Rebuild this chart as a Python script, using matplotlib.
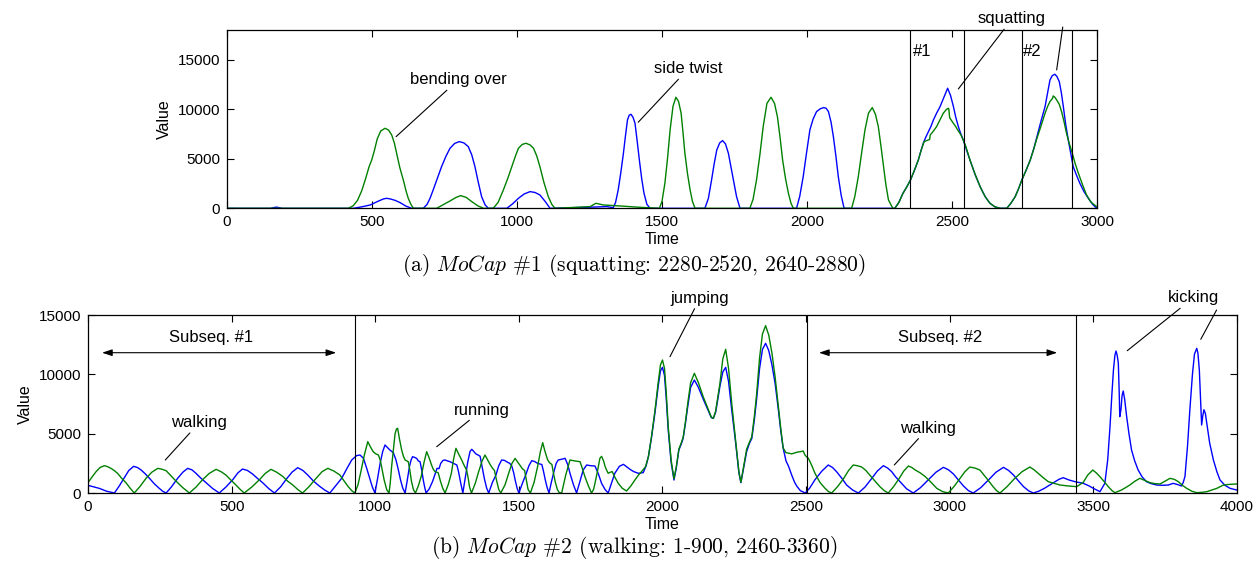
import matplotlib
matplotlib.use("Agg")
import matplotlib.pyplot as plt

plt.rcParams["font.family"] = ["Liberation Sans", "DejaVu Sans"]
plt.rcParams["mathtext.fontset"] = "cm"

BLUE = "#0000ff"
GREEN = "#008000"

# ---------- (a) MoCap #1 : values ----------
a_blue_t = [0, 150, 170, 190, 436, 465, 494, 520, 540, 551, 565, 580, 597, 617, 637,
            677, 690, 700, 711, 725, 740, 755, 769, 785, 801, 817, 832, 844, 855, 866, 878, 890, 901,
            965, 985, 1005, 1025, 1045, 1062, 1079, 1097, 1114, 1240, 1310, 1332,
            1340, 1349, 1358, 1367, 1374, 1381, 1387, 1393, 1400, 1407, 1414, 1422, 1430, 1438, 1448, 1459,
            1648, 1660, 1671, 1680, 1689, 1699, 1709, 1719, 1729, 1737, 1746, 1757, 1769,
            1964, 1975, 1987, 1998, 2010, 2021, 2033, 2046, 2058, 2066, 2074, 2083, 2091, 2100, 2108,
            2118, 2128, 2303, 2317, 2331, 2344, 2357, 2370, 2384, 2393, 2401, 2410, 2419, 2428, 2436,
            2447, 2459, 2472, 2485, 2495, 2505, 2513, 2522, 2530, 2539, 2550, 2562, 2580, 2597, 2614,
            2631, 2648, 2666, 2689, 2703, 2718, 2730, 2741, 2755, 2770, 2782, 2793, 2807, 2821, 2830,
            2838, 2846, 2855, 2862, 2870, 2877, 2884, 2892, 2901, 2910, 2918, 2930, 2941, 2955, 2970,
            2985, 2999]
a_blue_v = [0, 0, 120, 0, 0, 150, 337, 700, 950, 1010, 930, 800, 572, 220, 0,
            0, 400, 1000, 1852, 3000, 4209, 5250, 6060, 6550, 6733, 6600, 6228, 5400, 4209, 2700, 1178, 350, 0,
            0, 450, 1010, 1450, 1683, 1600, 1347, 700, 0, 100, 170, 60,
            600, 1852, 3600, 5555, 7300, 8922, 9400, 9494, 9200, 8585, 6900, 4878, 3000, 1515, 400, 0,
            0, 1000, 2862, 4500, 5892, 6600, 6834, 6500, 5555, 4300, 2862, 1200, 0,
            0, 1200, 3198, 5500, 7913, 9000, 9764, 10050, 10168, 10100, 9764, 8700, 7240, 5200, 3198,
            1300, 0, 0, 600, 1515, 2150, 2862, 3800, 4878, 5800, 6565, 7200, 7745, 8300, 8922,
            9600, 10268, 11200, 12119, 11400, 10268, 9200, 8248, 7550, 6901, 5900, 4878, 3400, 2188, 1200,
            505, 150, 0, 0, 500, 1178, 2000, 2862, 3800, 4878, 6000, 7240, 8800, 10268, 11700,
            12960, 13400, 13532, 13300, 12791, 11700, 10268, 8500, 6901, 5500, 4209, 3300, 2525, 1700, 1010,
            400, 0]

a_green_t = [0, 418, 435, 450, 465, 478, 490, 499, 508, 518, 530, 545, 557, 568, 577, 585, 596, 608,
             617, 625, 634, 643, 723, 745, 769, 790, 806, 825, 844, 865, 884,
             918, 935, 953, 968, 982, 995, 1005, 1018, 1031, 1045, 1057, 1068, 1079, 1093, 1108, 1120,
             1131, 1252, 1272, 1298, 1355, 1424, 1491, 1500, 1510, 1519, 1528, 1538, 1548, 1557, 1566,
             1572, 1579, 1588, 1597, 1605, 1614, 1803, 1814, 1826, 1838, 1849, 1862, 1876, 1888, 1898,
             1907, 1916, 1926, 1936, 1945, 1953, 2154, 2165, 2177, 2188, 2200, 2212, 2225, 2236, 2246,
             2255, 2264, 2272, 2281, 2296, 2303, 2317, 2331, 2344, 2357, 2370, 2384, 2393, 2404, 2414,
             2423, 2425, 2436, 2447, 2458, 2470, 2480, 2487, 2489, 2492, 2502, 2513, 2522, 2531, 2540,
             2548, 2562, 2580, 2597, 2614, 2631, 2648, 2666, 2689, 2703, 2718, 2730, 2741, 2755, 2770,
             2782, 2793, 2807, 2821, 2830, 2838, 2847, 2849, 2855, 2861, 2870, 2878, 2886, 2895, 2905,
             2915, 2925, 2936, 2950, 2964, 2980, 2999]
a_green_v = [0, 0, 250, 800, 1800, 3000, 4200, 4878, 5800, 7000, 7800, 8080, 7900, 7403, 6600, 5555, 4100, 2858,
             1800, 1010, 400, 0, 0, 350, 740, 1100, 1279, 1100, 673, 250, 0,
             0, 600, 1852, 3000, 4209, 5300, 6060, 6450, 6565, 6400, 6060, 5300, 4209, 2600, 1178, 400,
             0, 168, 505, 337, 236, 100, 0, 700, 2525, 5000, 7913, 10300, 11212, 10800, 9596,
             7800, 5555, 3500, 1852, 700, 0, 0, 900, 2862, 5500, 8248, 10600, 11212, 10600, 9259,
             7200, 4878, 3000, 1515, 500, 0, 0, 1200, 3198, 5500, 7913, 9600, 10168, 9500, 8248,
             6300, 4209, 2400, 842, 0, 0, 600, 1515, 2150, 2862, 3800, 4878, 5800, 6733, 6850,
             6950, 7400, 7800, 8248, 8900, 9596, 9950, 10100, 10050, 9150, 8700, 8248, 7800, 7409, 6800,
             6228, 4878, 3400, 2188, 1200, 505, 150, 0, 0, 500, 1178, 2000, 2862, 3800, 4878,
             6000, 7071, 8300, 9596, 10300, 10774, 11111, 11350, 11200, 10942, 10500, 9764, 8800, 7576, 6500,
             5555, 4500, 3535, 2400, 1347, 600, 168]

a_vlines = [2355, 2540, 2740, 2915]

# ---------- (b) MoCap #2 ----------
b_blue_t = [0, 20, 39, 65, 92, 109, 125, 142, 159, 172, 185, 200, 214, 230, 248, 260, 272,
            290, 312, 330, 347, 362, 376, 393, 411, 434, 457, 480, 504, 522, 538, 555, 573, 590, 608,
            628, 649, 670, 689, 710, 730, 748, 765, 785, 805, 824, 842, 862, 883, 900, 918, 935, 947,
            959, 970, 982, 990, 999,
            1008, 1017, 1026, 1034, 1042, 1051, 1063, 1072, 1080, 1088, 1096, 1104,
            1111, 1119, 1125, 1130, 1137, 1144, 1150, 1156, 1162, 1167, 1172, 1177,
            1188, 1200, 1215, 1222, 1228, 1236, 1243, 1252, 1260, 1272, 1284, 1290, 1297, 1305,
            1313, 1322, 1330, 1336, 1343, 1350, 1358, 1365, 1372, 1380, 1388, 1395,
            1408, 1420, 1430, 1440, 1450, 1460, 1468, 1475, 1482, 1488, 1494, 1500,
            1512, 1525, 1535, 1545, 1555, 1565, 1572, 1580, 1586, 1592, 1598, 1605,
            1613, 1622, 1630, 1637, 1650, 1661, 1670, 1678, 1690, 1701,
            1713, 1724, 1736, 1750, 1765, 1777, 1788, 1800, 1811,
            1822, 1834, 1850, 1864, 1876, 1887, 1900, 1916, 1933, 1943, 1951,
            1962, 1974, 1985, 1993, 2000, 2007, 2013, 2020, 2030, 2040, 2048, 2057, 2065, 2072, 2080,
            2088, 2098, 2111, 2125, 2142, 2160, 2170, 2177, 2185, 2192, 2200, 2210, 2220, 2230, 2241,
            2250, 2258, 2266, 2273, 2283, 2293, 2303, 2311, 2320, 2328, 2338, 2348, 2359, 2370, 2381,
            2392, 2402, 2412, 2420, 2430, 2439, 2450, 2460, 2468, 2480, 2497,
            2512, 2531, 2555, 2577, 2592, 2606, 2624, 2641, 2662, 2682,
            2705, 2726, 2748, 2769, 2784, 2798, 2812, 2827, 2850, 2873,
            2898, 2925, 2952, 2978, 2996, 3013, 3030, 3048, 3065, 3082,
            3108, 3135, 3161, 3187, 3205, 3222, 3240, 3257, 3275, 3291,
            3310, 3330, 3345, 3360, 3380, 3395, 3415, 3436, 3465, 3485, 3500, 3523,
            3540, 3550, 3558, 3565, 3570, 3575, 3579, 3583, 3587, 3590, 3592, 3596, 3600, 3604, 3609,
            3616, 3624, 3633, 3644, 3656, 3670, 3685, 3700, 3720, 3740, 3761, 3778, 3795, 3807, 3813,
            3819, 3828, 3836, 3845, 3852, 3860, 3864, 3869, 3873, 3877, 3881, 3885, 3890, 3895, 3905,
            3918, 3930, 3941, 3958, 3976, 3999]
b_blue_v = [646, 520, 393, 150, 0, 600, 1236, 1900, 2247, 2150, 1938, 1600, 1236, 800, 393, 150, 0,
            500, 1236, 1750, 2078, 1950, 1657, 1250, 870, 380, 0, 500, 1124, 1700, 2022, 1900, 1600, 1230, 870,
            400, 0, 500, 1124, 1750, 2135, 1900, 1517, 1000, 590, 250, 0, 600, 1236, 2000, 2780, 3150, 3202,
            2920, 2100, 1124, 500, 0,
            1200, 2500, 3500, 4045, 3850, 3623, 3398, 2800, 2000, 1100, 400, 0,
            1000, 2219, 2800, 3062, 3000, 2921, 2700, 2640, 1900, 1124, 500, 0,
            350, 1000, 2078, 2050, 2500, 2750, 2781, 2700, 2640, 2500, 2360, 1800, 900, 0,
            1200, 2600, 3500, 3680, 3500, 3300, 3200, 3100, 2200, 1200, 400, 0,
            900, 1500, 2300, 2781, 2750, 2600, 2500, 2300, 1700, 1000, 400, 0,
            800, 1600, 2300, 2725, 2650, 2500, 2450, 2400, 1800, 1100, 500, 0,
            900, 1800, 2500, 2781, 2850, 2921, 2400, 1660, 700, 0,
            1000, 1938, 2360, 2300, 2275, 1600, 815, 300, 0,
            800, 1660, 2250, 2416, 2200, 1994, 1800, 1660, 1716, 2300, 3062,
            4700, 6800, 9000, 10300, 10590, 9900, 8000, 5300, 2600, 1096, 2100, 3624, 4100, 4608, 5900,
            7300, 8900, 9522, 8900, 7900, 6900, 6350, 6290, 6800, 7800, 9000, 10200, 10590, 9400, 7000,
            5200, 3500, 1700, 870, 2200, 3500, 4200, 4600, 6200, 7980, 10500, 12100, 12613, 12000, 10800,
            9240, 7300, 5200, 3800, 2700, 2247, 1500, 900, 562, 200, 0,
            400, 1124, 1850, 2360, 2150, 1797, 1250, 674, 250, 0,
            500, 1150, 1850, 2303, 2100, 1797, 1350, 955, 350, 0,
            450, 1100, 1750, 2163, 1950, 1600, 1100, 590, 200, 0,
            450, 1100, 1750, 2163, 1900, 1517, 1000, 534, 180, 0,
            150, 400, 620, 850, 1150, 1290, 1100, 955, 815, 600, 393, 112,
            815, 2800, 5590, 8500, 10366, 11600, 11966, 11600, 10928, 8500, 6433, 7000, 8200, 8596, 7900,
            6433, 5000, 3624, 2700, 1938, 1350, 955, 800, 674, 650, 674, 815, 700, 590, 900,
            1400, 4000, 7020, 10000, 11700, 12192, 11800, 10366, 8000, 5730, 6500, 7020, 6700, 5870, 4200,
            2781, 1800, 1096, 650, 393, 253]

b_green_t = [0, 14, 28, 42, 57, 68, 80, 92, 103, 117, 132, 147, 161,
             181, 202, 222, 243, 258, 272, 289, 306, 330, 353, 376, 399, 422, 446, 463, 480, 497, 515,
             530, 544, 570, 597, 617, 637, 657, 678, 695, 713, 730, 747, 770, 794, 815, 835, 856, 877,
             892, 906, 918, 929,
             940, 950, 962, 974, 983, 993, 1002, 1011, 1017, 1022, 1031, 1040, 1048,
             1052, 1057, 1063, 1069, 1074, 1078, 1084, 1092, 1098, 1104, 1110, 1115, 1120, 1126, 1133, 1140,
             1150, 1160, 1170, 1179, 1187, 1196, 1202, 1208, 1214, 1219, 1227, 1235, 1243,
             1254, 1265, 1273, 1281, 1290, 1301, 1310, 1318, 1324, 1328, 1335,
             1348, 1360, 1372, 1382, 1391, 1400, 1408, 1415, 1422, 1430, 1437,
             1452, 1465, 1476, 1487, 1496, 1505, 1512, 1520, 1526, 1532, 1540,
             1553, 1565, 1575, 1583, 1591, 1600, 1607, 1615, 1621, 1627, 1634, 1640, 1649,
             1663, 1678, 1695, 1713, 1722, 1730, 1742, 1753,
             1760, 1765, 1775, 1782, 1788, 1795, 1800, 1806, 1811, 1818, 1825, 1835, 1846, 1860, 1875,
             1890, 1904, 1916, 1927, 1941, 1951,
             1962, 1974, 1985, 1993, 2000, 2007, 2013, 2020, 2030, 2040, 2048, 2057, 2065, 2072, 2080,
             2088, 2098, 2111, 2125, 2142, 2160, 2170, 2177, 2185, 2192, 2200, 2210, 2220, 2230, 2241,
             2250, 2258, 2266, 2273, 2283, 2293, 2303, 2311, 2320, 2328, 2338, 2348, 2359, 2370, 2381,
             2392, 2402, 2412, 2420, 2430, 2450, 2470, 2480, 2490, 2496, 2502,
             2508, 2520, 2531, 2548, 2566, 2578, 2589,
             2610, 2630, 2648, 2664, 2678, 2693, 2708, 2722, 2740, 2757, 2772, 2786,
             2805, 2822, 2840, 2856, 2868, 2880, 2897, 2914, 2935, 2955, 2975, 2995,
             3015, 3035, 3053, 3070, 3088, 3105, 3128, 3151, 3163, 3175,
             3200, 3225, 3252, 3279, 3294, 3308, 3325, 3343, 3365, 3384, 3410, 3442, 3465, 3480, 3498,
             3510, 3523, 3538, 3552, 3565, 3575, 3598, 3612, 3627, 3645, 3662, 3680, 3697, 3715, 3732,
             3750, 3767, 3782, 3796, 3810, 3825, 3843, 3860, 3878, 3895, 3912, 3930, 3953, 3975, 3999]
b_green_v = [870, 1350, 1796, 2150, 2303, 2220, 2078, 1880, 1657, 1250, 870, 400, 0,
             550, 1236, 1750, 2078, 2000, 1880, 1450, 1011, 450, 0, 500, 1124, 1650, 1994, 1800, 1517, 1100, 674,
             300, 0, 500, 1124, 1650, 1994, 1750, 1400, 1000, 674, 300, 0, 550, 1236, 1800, 2078, 1850, 1517,
             1000, 534, 200, 0,
             700, 1800, 3200, 4326, 3900, 3475, 3300, 3202, 2800, 2219, 1100, 281, 0,
             800, 2219, 3600, 5000, 5400, 5450, 4600, 3623, 3100, 2781, 2700, 2640, 2000, 1000, 281, 0,
             600, 1400, 2600, 3483, 3000, 2360, 2000, 1800, 1750, 1713, 1000, 400, 0,
             700, 1657, 2900, 3764, 3300, 2781, 2300, 1938, 1200, 534, 0,
             800, 1800, 2700, 3202, 2800, 2400, 2100, 1900, 1100, 300, 0,
             700, 1700, 2500, 2921, 2600, 2300, 2050, 1900, 1100, 300, 0,
             900, 2200, 3500, 4242, 3500, 2800, 2550, 2400, 1600, 900, 300, 50, 0,
             1500, 2781, 2700, 2640, 2000, 1377, 600, 0,
             300, 815, 2000, 2921, 3090, 2700, 2247, 1900, 1660, 1750, 1800, 1300, 815, 400, 168,
             600, 1096, 1500, 1800, 2220, 3062,
             4800, 6994, 9300, 10800, 11208, 10500, 8500, 5590, 2800, 1200, 2200, 3700, 4200, 4700, 6000,
             7560, 9300, 10084, 9300, 8100, 7000, 6400, 6290, 6900, 8000, 9240, 11300, 12107, 10500, 7560,
             5500, 3624, 1800, 900, 2300, 3700, 4300, 4748, 6500, 8400, 11400, 13400, 14101, 13300, 11800,
             9800, 7600, 5400, 3800, 3400, 3300, 3450, 3480, 3540, 3200, 3040,
             2920, 2300, 1657, 900, 393, 120, 0,
             550, 1200, 1900, 2360, 2300, 2200, 1900, 1500, 1000, 534, 200, 0,
             550, 1150, 1850, 2275, 2150, 1938, 1700, 1400, 900, 393, 120, 0,
             550, 1200, 1800, 2190, 2100, 1938, 1250, 534, 200, 0,
             550, 1200, 1800, 2190, 1950, 1657, 1300, 955, 800, 674, 600, 534, 900, 1500, 1938,
             1700, 1377, 950, 534, 200, 28, 253, 450, 674, 1000, 1236, 1050, 871, 790, 760,
             1000, 1236, 1150, 955, 650, 393, 150, 28, 60, 112, 250, 393, 674, 730, 760]

b_vlines = [929, 2504, 3440]


def style_axes(ax, xmax, ymax, xticks, yticks):
    ax.set_xlim(0, xmax)
    ax.set_ylim(0, ymax)
    ax.set_xticks(xticks)
    ax.set_yticks(yticks)
    ax.tick_params(direction="in", top=True, right=True, length=5, width=0.8,
                   labelsize=11, pad=5)
    for s in ax.spines.values():
        s.set_linewidth(0.9)
    ax.set_xlabel("Time", fontsize=11.5, labelpad=2)
    ax.set_ylabel("Value", fontsize=11.5, labelpad=4)


fig = plt.figure(figsize=(12.59, 5.61), dpi=100)

# top panel
ax1 = fig.add_axes([0.1803, 0.6287, 0.6910, 0.3178])
ax1.plot(a_blue_t, a_blue_v, color=BLUE, lw=1.0)
ax1.plot(a_green_t, a_green_v, color=GREEN, lw=1.0)
for x in a_vlines:
    ax1.axvline(x, color="black", lw=0.8)
style_axes(ax1, 3000, 18000, range(0, 3001, 500), [0, 5000, 10000, 15000])
ax1.text(2366, 15786, "#1", fontsize=12, va="center")
ax1.text(2745, 15786, "#2", fontsize=12, va="center")
line = dict(arrowstyle="-", color="black", lw=0.8, shrinkA=0, shrinkB=0)
ax1.annotate("bending over", xy=(583, 7232), xytext=(797, 12958), fontsize=12,
             ha="center", va="center", arrowprops=line)
ax1.annotate("side twist", xy=(1418, 8686), xytext=(1590, 14069), fontsize=12,
             ha="center", va="center", arrowprops=line)
ax1.annotate("squatting", xy=(2522, 12049), xytext=(2707, 19119), fontsize=12,
             ha="center", va="center", arrowprops=line, annotation_clip=False)
ax1.annotate("", xy=(2861, 13969), xytext=(2882, 18300), arrowprops=line,
             annotation_clip=False)

# bottom panel
ax2 = fig.add_axes([0.0699, 0.1212, 0.9126, 0.3173])
ax2.plot(b_blue_t, b_blue_v, color=BLUE, lw=1.0)
ax2.plot(b_green_t, b_green_v, color=GREEN, lw=1.0)
for x in b_vlines:
    ax2.axvline(x, color="black", lw=0.8)
style_axes(ax2, 4000, 15000, range(0, 4001, 500), [0, 5000, 10000, 15000])
arrow2 = dict(arrowstyle="<|-|>,head_length=0.6,head_width=0.2", color="black", lw=0.8,
              shrinkA=0, shrinkB=0)
ax2.annotate("", xy=(49, 11823), xytext=(864, 11823), arrowprops=arrow2)
ax2.annotate("", xy=(2545, 11823), xytext=(3374, 11823), arrowprops=arrow2)
ax2.text(430, 13146, "Subseq. #1", fontsize=12, ha="center", va="center")
ax2.text(2965, 13146, "Subseq. #2", fontsize=12, ha="center", va="center")
ax2.annotate("walking", xy=(269, 2781), xytext=(387, 5924), fontsize=12,
             ha="center", va="center", arrowprops=line)
ax2.annotate("running", xy=(1214, 3902), xytext=(1372, 6994), fontsize=12,
             ha="center", va="center", arrowprops=line)
ax2.annotate("jumping", xy=(2026, 11486), xytext=(2130, 16400), fontsize=12,
             ha="center", va="center", arrowprops=line, annotation_clip=False)
ax2.annotate("walking", xy=(2807, 2360), xytext=(2924, 5450), fontsize=12,
             ha="center", va="center", arrowprops=line)
ax2.annotate("kicking", xy=(3618, 11990), xytext=(3847, 16433), fontsize=12,
             ha="center", va="center", arrowprops=line, annotation_clip=False)
ax2.annotate("", xy=(3874, 12953), xytext=(3929, 15421), arrowprops=line,
             annotation_clip=False)

fig.text(0.5036, 0.5276, r"(a) $\mathit{MoCap}$ #1 (squatting: 2280-2520, 2640-2880)",
         family="cmr10", fontsize=15.5, ha="center", va="center")
fig.text(0.5036, 0.0232, r"(b) $\mathit{MoCap}$ #2 (walking: 1-900, 2460-3360)",
         family="cmr10", fontsize=15.5, ha="center", va="center")

fig.savefig("out.png", dpi=100)
